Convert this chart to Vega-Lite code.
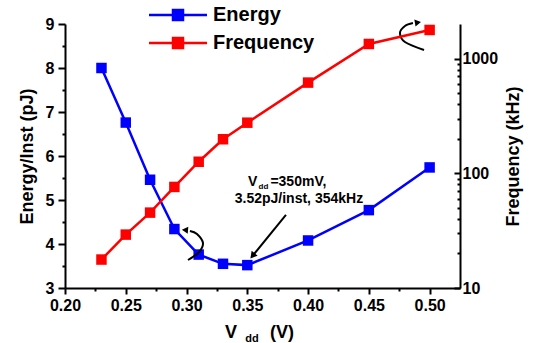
{
  "$schema": "https://vega.github.io/schema/vega-lite/v6.json",
  "width": 395,
  "height": 264,
  "autosize": "none",
  "padding": {"left": 65, "top": 24, "right": 75, "bottom": 55},
  "background": "white",
  "config": {
    "view": {"stroke": null},
    "font": "Liberation Sans",
    "axis": {
      "grid": false,
      "domainColor": "black",
      "domainWidth": 2,
      "tickColor": "black",
      "tickWidth": 2,
      "labelFont": "Liberation Sans",
      "labelFontWeight": "bold",
      "labelFontSize": 16,
      "labelColor": "black",
      "titleFont": "Liberation Sans",
      "titleFontWeight": "bold",
      "titleFontSize": 18,
      "titleColor": "black",
      "labelOverlap": false,
      "labelFlush": false
    }
  },
  "datasets": {
    "main": [
      {"v": 0.23, "e": 8.00, "f": 17.7},
      {"v": 0.25, "e": 6.76, "f": 29.2},
      {"v": 0.27, "e": 5.46, "f": 45.4},
      {"v": 0.29, "e": 4.34, "f": 76},
      {"v": 0.31, "e": 3.76, "f": 126},
      {"v": 0.33, "e": 3.55, "f": 198},
      {"v": 0.35, "e": 3.52, "f": 276},
      {"v": 0.40, "e": 4.08, "f": 617},
      {"v": 0.45, "e": 4.77, "f": 1340},
      {"v": 0.50, "e": 5.74, "f": 1775}
    ],
    "curves": [
      {"k": "a", "o": 1, "v": 0.3012, "e": 3.636},
      {"k": "a", "o": 2, "v": 0.3103, "e": 3.818},
      {"k": "a", "o": 3, "v": 0.3135, "e": 4.023},
      {"k": "a", "o": 4, "v": 0.3086, "e": 4.227},
      {"k": "a", "o": 5, "v": 0.3028, "e": 4.295},
      {"k": "b", "o": 1, "v": 0.4954, "e": 8.409},
      {"k": "b", "o": 2, "v": 0.4797, "e": 8.591},
      {"k": "b", "o": 3, "v": 0.4756, "e": 8.795},
      {"k": "b", "o": 4, "v": 0.4797, "e": 8.955},
      {"k": "b", "o": 5, "v": 0.4863, "e": 9.023}
    ]
  },
  "encoding": {
    "x": {
      "field": "v",
      "type": "quantitative",
      "scale": {"domain": [0.2, 0.525], "nice": false, "zero": false},
      "axis": {
        "title": null,
        "values": [0.2, 0.225, 0.25, 0.275, 0.3, 0.325, 0.35, 0.375, 0.4, 0.425, 0.45, 0.475, 0.5],
        "labelExpr": "round(datum.value*1000) % 50 == 0 ? format(datum.value, '.2f') : ''",
        "tickSize": {"condition": {"test": "round(datum.value*1000) % 50 != 0", "value": 3}, "value": 6},
        "labelPadding": 3
      }
    }
  },
  "layer": [
    {
      "encoding": {
        "y": {
          "field": "e",
          "type": "quantitative",
          "scale": {"domain": [3, 9], "nice": false, "zero": false},
          "axis": {
            "title": "Energy/Inst (pJ)",
            "values": [3, 3.5, 4, 4.5, 5, 5.5, 6, 6.5, 7, 7.5, 8, 8.5, 9],
            "labelExpr": "datum.value % 1 == 0 ? format(datum.value, 'd') : ''",
            "tickSize": {"condition": {"test": "datum.value % 1 != 0", "value": 3}, "value": 7},
            "labelPadding": 4,
            "titlePadding": 9
          }
        }
      },
      "layer": [
        {
          "data": {"name": "main"},
          "mark": {"type": "line", "strokeWidth": 2.5, "point": {"shape": "square", "size": 110, "filled": true, "opacity": 1}},
          "encoding": {
            "color": {
              "datum": "Energy",
              "type": "nominal",
              "scale": {"domain": ["Energy", "Frequency"], "range": ["#0000ff", "#ff0000"]},
              "legend": {
                "orient": "none",
                "legendX": 103,
                "legendY": -19,
                "title": null,
                "padding": 0,
                "symbolType": "M-5.8,0H-1M1,0H5.8M-1,-1H1V1H-1Z",
                "symbolSize": 100,
                "symbolStrokeWidth": 2.5,
                "labelFont": "Liberation Sans",
                "labelFontSize": 20,
                "labelFontWeight": "bold",
                "labelColor": "black",
                "labelOffset": 25,
                "labelLimit": 300,
                "rowPadding": 8,
                "encode": {"symbols": {"update": {"fill": {"scale": "color", "field": "value"}, "stroke": {"scale": "color", "field": "value"}, "opacity": {"value": 1}}}}
              }
            }
          }
        },
        {
          "data": {"name": "curves"},
          "mark": {"type": "line", "color": "black", "strokeWidth": 2, "interpolate": "cardinal"},
          "encoding": {"detail": {"field": "k"}, "order": {"field": "o", "type": "quantitative"}}
        },
        {
          "data": {"values": [{"v": 0.3818, "e": 4.66, "v2": 0.3543, "e2": 3.73}]},
          "mark": {"type": "rule", "color": "black", "strokeWidth": 2},
          "encoding": {"x2": {"field": "v2"}, "y2": {"field": "e2"}}
        },
        {
          "data": {"values": [{"v": 0.3543, "e": 3.73}]},
          "mark": {"type": "point", "shape": "triangle-up", "filled": true, "color": "black", "size": 60, "angle": 219, "opacity": 1}
        },
        {
          "data": {"values": [{"v": 0.2987, "e": 4.318}]},
          "mark": {"type": "point", "shape": "triangle-up", "filled": true, "color": "black", "size": 50, "angle": 275, "opacity": 1}
        },
        {
          "data": {"values": [{"v": 0.4904, "e": 9.034}]},
          "mark": {"type": "point", "shape": "triangle-up", "filled": true, "color": "black", "size": 50, "angle": 80, "opacity": 1}
        },
        {
          "data": {"values": [
            {"v": 0.3506, "e": 5.41, "t": "V"},
            {"v": 0.3690, "e": 5.41, "t": "=350mV,"}
          ]},
          "mark": {"type": "text", "align": "left", "baseline": "middle", "font": "Liberation Sans", "fontWeight": "bold", "fontSize": 14, "color": "black"},
          "encoding": {"text": {"field": "t"}}
        },
        {
          "data": {"values": [{"v": 0.3592, "e": 5.30, "t": "dd"}]},
          "mark": {"type": "text", "align": "left", "baseline": "middle", "font": "Liberation Sans", "fontWeight": "bold", "fontSize": 8, "color": "black"},
          "encoding": {"text": {"field": "t"}}
        },
        {
          "data": {"values": [{"v": 0.3925, "e": 5.02, "t": "3.52pJ/inst, 354kHz"}]},
          "mark": {"type": "text", "align": "center", "baseline": "middle", "font": "Liberation Sans", "fontWeight": "bold", "fontSize": 14, "color": "black"},
          "encoding": {"text": {"field": "t"}}
        },
        {
          "data": {"values": [
            {"v": 0.3366, "e": 1.98, "t": "V"},
            {"v": 0.3785, "e": 1.98, "t": "(V)"}
          ]},
          "mark": {"type": "text", "align": "center", "baseline": "middle", "font": "Liberation Sans", "fontWeight": "bold", "fontSize": 18, "color": "black"},
          "encoding": {"text": {"field": "t"}}
        },
        {
          "data": {"values": [{"v": 0.3539, "e": 1.85, "t": "dd"}]},
          "mark": {"type": "text", "align": "center", "baseline": "middle", "font": "Liberation Sans", "fontWeight": "bold", "fontSize": 11, "color": "black"},
          "encoding": {"text": {"field": "t"}}
        }
      ]
    },
    {
      "data": {"name": "main"},
      "mark": {"type": "line", "strokeWidth": 2.5, "point": {"shape": "square", "size": 110, "filled": true, "opacity": 1}},
      "encoding": {
        "y": {
          "field": "f",
          "type": "quantitative",
          "scale": {"type": "log", "domain": [10, 2000], "nice": false},
          "axis": {
            "orient": "right",
            "title": "Frequency (kHz)",
            "titleAngle": 270,
            "values": [10, 20, 30, 40, 50, 60, 70, 80, 90, 100, 200, 300, 400, 500, 600, 700, 800, 900, 1000],
            "labelExpr": "(datum.value == 10 || datum.value == 100 || datum.value == 1000) ? format(datum.value, 'd') : ''",
            "tickSize": {"condition": {"test": "!(datum.value == 10 || datum.value == 100 || datum.value == 1000)", "value": -3}, "value": -6},
            "labelPadding": 8,
            "titlePadding": 25
          }
        },
        "color": {
          "datum": "Frequency",
          "type": "nominal",
          "scale": {"domain": ["Energy", "Frequency"], "range": ["#0000ff", "#ff0000"]},
          "legend": {
            "orient": "none",
            "legendX": 103,
            "legendY": -19,
            "title": null,
            "padding": 0,
            "symbolType": "M-5.8,0H-1M1,0H5.8M-1,-1H1V1H-1Z",
            "symbolSize": 100,
            "symbolStrokeWidth": 2.5,
            "labelFont": "Liberation Sans",
            "labelFontSize": 20,
            "labelFontWeight": "bold",
            "labelColor": "black",
            "labelOffset": 25,
            "labelLimit": 300,
            "rowPadding": 8,
            "encode": {"symbols": {"update": {"fill": {"scale": "color", "field": "value"}, "stroke": {"scale": "color", "field": "value"}, "opacity": {"value": 1}}}}
          }
        }
      }
    }
  ],
  "resolve": {"scale": {"y": "independent"}}
}
